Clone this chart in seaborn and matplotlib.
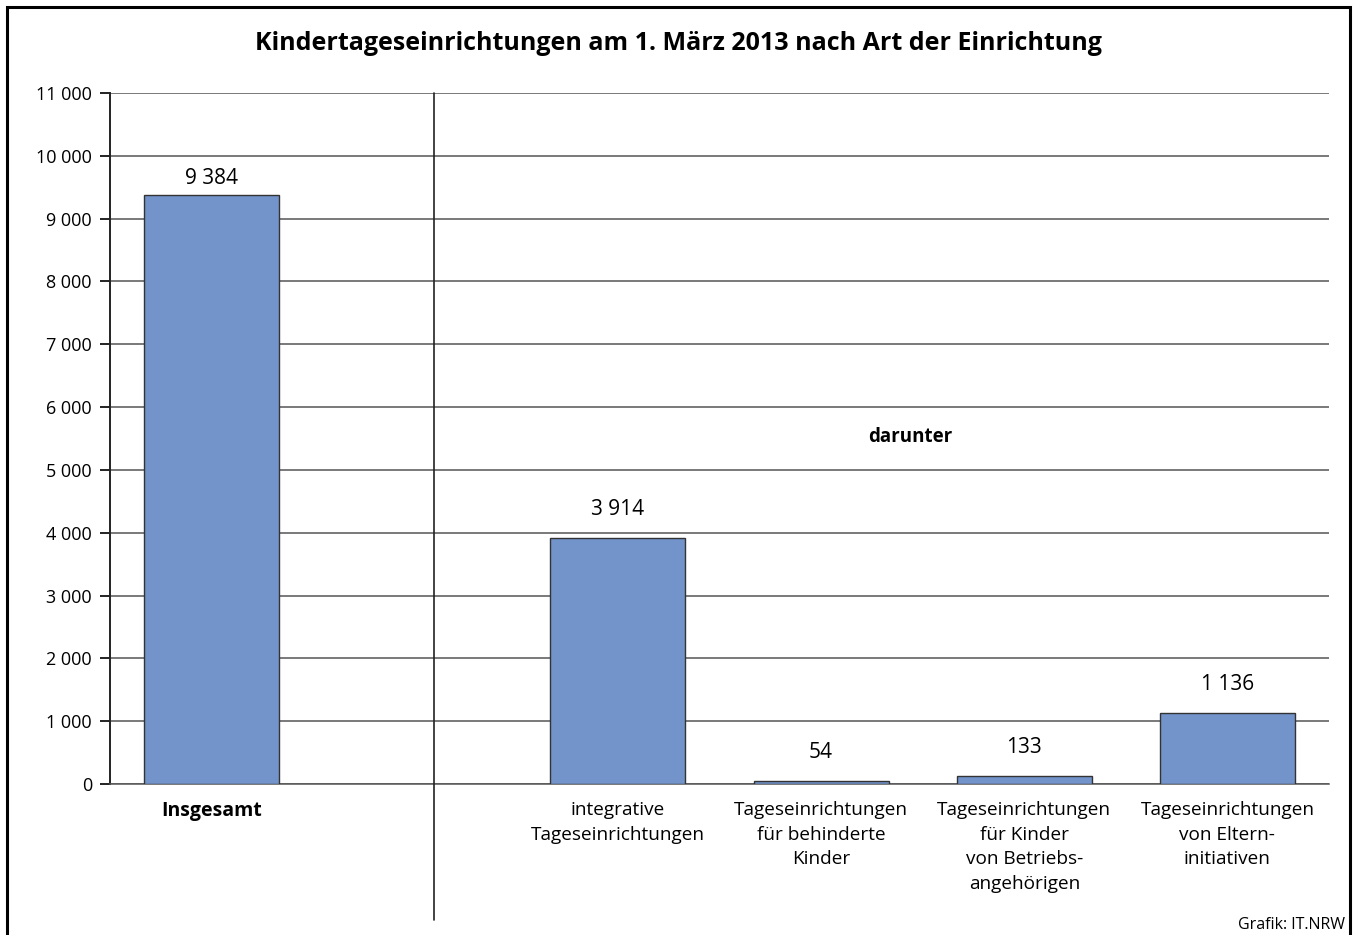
import numpy as np
import pandas as pd
import matplotlib
matplotlib.use("Agg")
import matplotlib.pyplot as plt
import seaborn as sns
from matplotlib.patches import Rectangle
from matplotlib.ticker import FuncFormatter

# Daten
kategorien = ["Insgesamt", "_leer", "integrative", "behinderte", "betrieb", "eltern"]
tick_labels = [
    "Insgesamt",
    "",
    "integrative\nTageseinrichtungen",
    "Tageseinrichtungen\nfür behinderte\nKinder",
    "Tageseinrichtungen\nfür Kinder\nvon Betriebs-\nangehörigen",
    "Tageseinrichtungen\nvon Eltern-\ninitiativen",
]
balken_kat = ["Insgesamt", "integrative", "behinderte", "betrieb", "eltern"]
anzahl = [9384, 3914, 54, 133, 1136]
y_ticks = [0, 1000, 2000, 3000, 4000, 5000, 6000, 7000, 8000, 9000, 10000, 11000]

sns.set_theme(style="white")
plt.rcParams['font.family'] = ['Open Sans', 'DejaVu Sans']
plt.rcParams['text.color'] = 'black'

df = pd.DataFrame({"Art": balken_kat, "Anzahl": anzahl})

fig = plt.figure(figsize=(13.56, 9.35), dpi=100)
ax = fig.add_axes([110 / 1356, 1 - 784 / 935, (1329 - 110) / 1356, (784 - 93) / 935])

sns.barplot(data=df, x="Art", y="Anzahl", order=kategorien, color="#7294CA",
            saturation=1, width=0.665, edgecolor="#333333", linewidth=1.0, ax=ax, zorder=3)

ax.set_xlim(-0.5, 5.5)
ax.set_ylim(0, 11000)
ax.set_yticks(y_ticks)
ax.yaxis.set_major_formatter(FuncFormatter(lambda v, p: f"{int(v):,}".replace(",", " ")))
ax.yaxis.grid(True, color="#555555", linewidth=1.1, zorder=0)
ax.set_axisbelow(True)
ax.tick_params(axis="y", length=7, width=1.4, color="#222222", pad=6, labelsize=13, labelcolor="black", left=True)
ax.set_xticks(range(len(kategorien)))
ax.set_xticklabels(tick_labels, fontsize=13.7, linespacing=1.46, va="top")
ax.tick_params(axis="x", length=0, pad=12.5, labelcolor="black")
ax.get_xticklabels()[0].set_fontweight("bold")
ax.get_xticklabels()[0].set_fontsize(14)
ax.set_xlabel("")
ax.set_ylabel("")

for s in ["top", "right"]:
    ax.spines[s].set_visible(False)
ax.spines["left"].set_color("#222222")
ax.spines["left"].set_linewidth(1.4)
ax.spines["bottom"].set_color("#555555")
ax.spines["bottom"].set_linewidth(1.1)

# Werte über den Balken
pads = [4, 13, 13, 13, 13]
bars = [p for p in ax.patches]
for bar, wert, pad in zip(bars, anzahl, pads):
    ax.annotate(f"{wert:,}".replace(",", " "),
                (bar.get_x() + bar.get_width() / 2, bar.get_height()),
                xytext=(0, pad), textcoords="offset points",
                ha="center", va="bottom", fontsize=15)

# Trennlinie
ax.plot([1.094, 1.094], [-2170, 11000], color="#222222", linewidth=1.2, clip_on=False, zorder=4)
ax.text(3.44, 5525, "darunter", ha="center", va="center", fontsize=13.5, fontweight="bold")

fig.text(0.5, 1 - 43 / 935, "Kindertageseinrichtungen am 1. März 2013 nach Art der Einrichtung",
         ha="center", va="center", fontsize=18, fontweight="bold")
fig.text(1345 / 1356, 1 - 925 / 935, "Grafik: IT.NRW", ha="right", va="center", fontsize=11.5)

fig.patches.append(Rectangle((7 / 1356, -0.05), (1350 - 7) / 1356, 1.05 - 7 / 935,
                             transform=fig.transFigure, fill=False, edgecolor="black",
                             linewidth=2.2))

fig.savefig("out.png", dpi=100)
